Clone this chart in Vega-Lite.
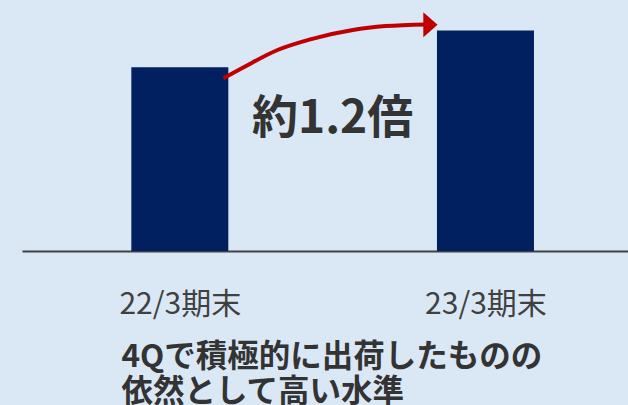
{
  "$schema": "https://vega.github.io/schema/vega-lite/v6.json",
  "width": 606,
  "height": 251,
  "autosize": {"type": "none"},
  "padding": {"left": 22, "top": 0, "right": 0, "bottom": 154},
  "background": "#DAE8F6",
  "config": {"view": {"stroke": null}, "font": "Noto Sans CJK JP"},
  "datasets": {
    "bars": [
      {"period": "22/3期末", "pos": 1, "value": 100},
      {"period": "23/3期末", "pos": 2, "value": 120}
    ],
    "arrow": [
      {"pos": 1.1426, "value": 94.0},
      {"pos": 1.2121, "value": 100.3},
      {"pos": 1.3196, "value": 109.4},
      {"pos": 1.4267, "value": 115.2},
      {"pos": 1.5661, "value": 120.3},
      {"pos": 1.6735, "value": 122.4},
      {"pos": 1.8065, "value": 123.3}
    ],
    "head": [
      {"pos": 1.82, "value": 123.1}
    ],
    "note": [
      {"label": "約1.2倍", "pos": 1.5, "value": 72}
    ]
  },
  "layer": [
    {
      "data": {"name": "bars"},
      "mark": {"type": "bar", "width": 97, "color": "#002060"},
      "encoding": {
        "x": {
          "field": "pos",
          "type": "quantitative",
          "scale": {"domain": [0.5, 2.45], "nice": false, "zero": false},
          "axis": {
            "values": [1, 2],
            "labelExpr": "datum.value == 1 ? '22/3期末' : '23/3期末'",
            "ticks": false,
            "grid": false,
            "domainColor": "#404040",
            "domainWidth": 2,
            "labelFontSize": 30,
            "labelColor": "#404040",
            "labelPadding": 38,
            "labelFont": "Noto Sans CJK JP",
            "labelFontWeight": "normal",
            "labelFlush": false,
            "labelOverlap": false,
            "labelBound": false,
            "title": ["4Qで積極的に出荷したものの", "依然として高い水準"],
            "titleFont": "Noto Sans CJK JP",
            "titleFontSize": 31.5,
            "titleFontWeight": "bold",
            "titleColor": "#333333",
            "titleAnchor": "start",
            "titleAlign": "left",
            "titleBaseline": "top",
            "titleX": 99,
            "titleY": 90,
            "titleLineHeight": 35
          }
        },
        "y": {
          "field": "value",
          "type": "quantitative",
          "scale": {"domain": [0, 136.6], "nice": false},
          "axis": null
        }
      }
    },
    {
      "data": {"name": "arrow"},
      "mark": {"type": "line", "color": "#C00000", "strokeWidth": 4, "interpolate": "monotone", "strokeCap": "butt"},
      "encoding": {
        "x": {"field": "pos", "type": "quantitative", "scale": {"domain": [0.5, 2.45], "nice": false, "zero": false}},
        "y": {"field": "value", "type": "quantitative", "scale": {"domain": [0, 136.6], "nice": false}}
      }
    },
    {
      "data": {"name": "head"},
      "mark": {"type": "point", "shape": "M-0.57,-1L0.57,0L-0.57,1Z", "size": 625, "filled": true, "color": "#C00000", "opacity": 1, "strokeWidth": 0},
      "encoding": {
        "x": {"field": "pos", "type": "quantitative", "scale": {"domain": [0.5, 2.45], "nice": false, "zero": false}},
        "y": {"field": "value", "type": "quantitative", "scale": {"domain": [0, 136.6], "nice": false}}
      }
    },
    {
      "data": {"name": "note"},
      "mark": {"type": "text", "fontSize": 46, "fontWeight": "bold", "color": "#333333", "align": "center", "baseline": "middle", "font": "Noto Sans CJK JP"},
      "encoding": {
        "x": {"field": "pos", "type": "quantitative", "scale": {"domain": [0.5, 2.45], "nice": false, "zero": false}},
        "y": {"field": "value", "type": "quantitative", "scale": {"domain": [0, 136.6], "nice": false}},
        "text": {"field": "label"}
      }
    }
  ]
}
